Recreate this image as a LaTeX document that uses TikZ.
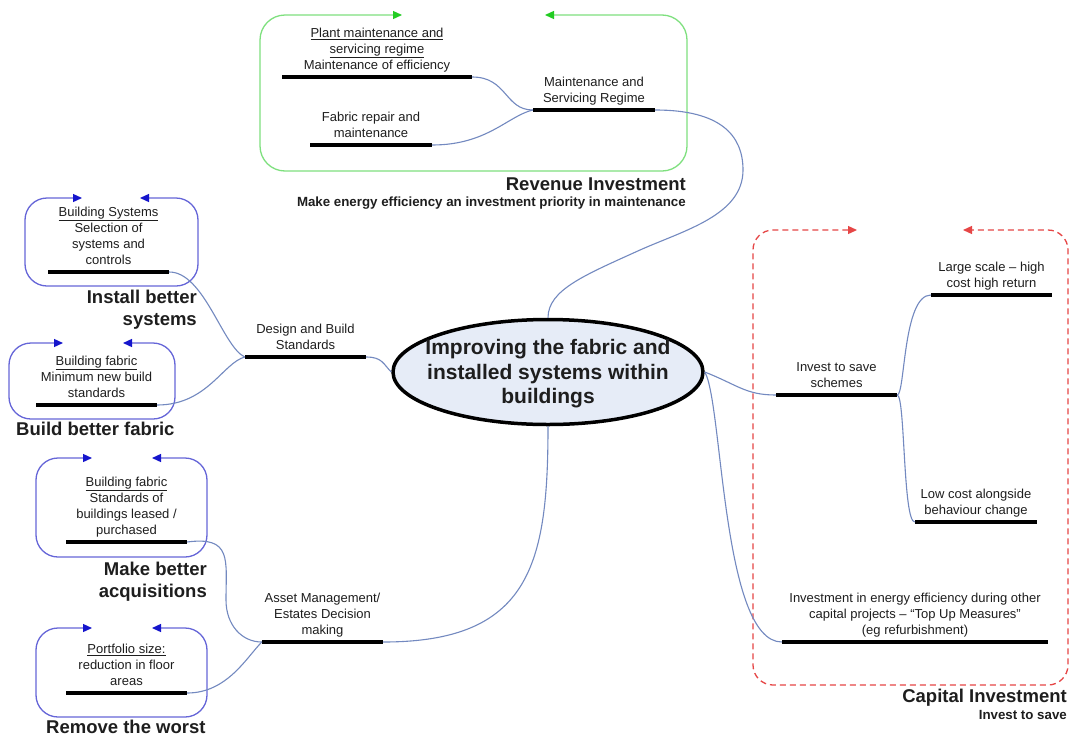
\documentclass[tikz,border=0pt]{standalone}
\usepackage{fontspec}
\setmainfont{Liberation Sans}
\usetikzlibrary{shapes.geometric,arrows.meta}

\definecolor{textc}{HTML}{1E1E1E}
\definecolor{linkc}{HTML}{7389C0}
\definecolor{hubfill}{HTML}{E6ECF7}
\definecolor{greenline}{HTML}{7EE07E}
\definecolor{greentip}{HTML}{22CC22}
\definecolor{blueline}{HTML}{6666D8}
\definecolor{bluetip}{HTML}{1515CC}
\definecolor{redline}{HTML}{E64646}

\tikzset{
  bar/.style={rectangle, fill=black, draw=none, inner sep=0pt, minimum height=4.5pt},
  lbl/.style={font=\fontsize{13}{16}\selectfont, text=textc, align=center,
              inner sep=0pt, anchor=south, execute at end node=\strut},
  title/.style={font=\fontsize{18.5}{22}\selectfont\bfseries, text=textc, inner sep=0pt},
  subtitle/.style={font=\fontsize{13.3}{15}\selectfont\bfseries, text=textc, inner sep=0pt},
  link/.style={draw=linkc, line width=1.1pt},
  hub/.style={ellipse, draw=black, line width=3.5pt, fill=hubfill,
              minimum width=310pt, minimum height=105pt, inner sep=0pt},
  hubtext/.style={align=center, text=textc, inner sep=0pt,
              font=\fontsize{21}{24.5}\selectfont\bfseries},
  greenframe/.style={draw=greenline, line width=1.3pt, rounded corners=25pt,
    {Triangle[length=9pt,width=8pt,color=greentip]}-{Triangle[length=9pt,width=8pt,color=greentip]}},
  blueframe/.style={draw=blueline, line width=1.3pt, rounded corners=22pt,
    {Triangle[length=9pt,width=8pt,color=bluetip]}-{Triangle[length=9pt,width=8pt,color=bluetip]}},
  redframe/.style={draw=redline, line width=1.3pt, rounded corners=20pt,
    dash pattern=on 6pt off 4pt,
    {Triangle[length=9pt,width=8pt,color=redline]}-{Triangle[length=9pt,width=8pt,color=redline]}},
}

\begin{document}
\begin{tikzpicture}[x=1pt,y=-1pt]
\useasboundingbox[fill=white] (0,0) rectangle (1073,742);

% ---------- group frames (open at the top, arrows pointing inwards) ----------
\draw[greenframe] (402,15) -- (260,15) -- (260,171) -- (687,171) -- (687,15) -- (545,15);
\draw[blueframe] (82,198) -- (25,198) -- (25,286) -- (198,286) -- (198,198) -- (140,198);
\draw[blueframe] (63,343) -- (9,343) -- (9,419) -- (175,419) -- (175,343) -- (123,343);
\draw[blueframe] (92,458) -- (36,458) -- (36,557) -- (207,557) -- (207,458) -- (152,458);
\draw[blueframe] (92,628) -- (36,628) -- (36,717) -- (207,717) -- (207,628) -- (152,628);
\draw[redframe] (857,230) -- (753,230) -- (753,685) -- (1068,685) -- (1068,230) -- (963,230);

% ---------- central topic ----------
\node[hub] (hub) at (548,372) {};
\node[hubtext] (hubt) at ([yshift=-2pt]hub.center) {Improving the fabric and\\installed systems within\\buildings};

% ---------- branch bars ----------
\node[bar, minimum width=190pt] (pm)     at (377,77)  {};
\node[bar, minimum width=122pt] (fr)     at (371,145) {};
\node[bar, minimum width=122pt] (msr)    at (594,110) {};
\node[bar, minimum width=121pt] (bs)     at (108.5,272) {};
\node[bar, minimum width=121pt] (bf)     at (96.5,405) {};
\node[bar, minimum width=121pt] (dbs)    at (305.5,357) {};
\node[bar, minimum width=121pt] (acq)    at (126.5,542) {};
\node[bar, minimum width=121pt] (port)   at (126.5,693) {};
\node[bar, minimum width=121pt] (asset)  at (322.5,642) {};
\node[bar, minimum width=121pt] (large)  at (991.5,295) {};
\node[bar, minimum width=121pt] (invest) at (836.5,395) {};
\node[bar, minimum width=122pt] (low)    at (976,522) {};
\node[bar, minimum width=266pt] (topup)  at (915,642) {};

% ---------- branch labels ----------
\node[lbl] (pmt) at (pm.north) {\underline{Plant maintenance and}\\\underline{servicing regime}\\Maintenance of efficiency};
\node[lbl] (frt) at (fr.north) {Fabric repair and\\maintenance};
\node[lbl] (msrt) at (msr.north) {Maintenance and\\Servicing Regime};
\node[lbl] (bst) at (bs.north) {\underline{Building Systems}\\Selection of\\systems and\\controls};
\node[lbl] (bft) at (bf.north) {\underline{Building fabric}\\Minimum new build\\standards};
\node[lbl] (dbst) at (dbs.north) {Design and Build\\Standards};
\node[lbl] (acqt) at (acq.north) {\underline{Building fabric}\\Standards of\\buildings leased /\\purchased};
\node[lbl] (portt) at (port.north) {\underline{Portfolio size:}\\reduction in floor\\areas};
\node[lbl] (assett) at (asset.north) {Asset Management/\\Estates Decision\\making};
\node[lbl] (larget) at (large.north) {Large scale – high\\cost high return};
\node[lbl] (investt) at (invest.north) {Invest to save\\schemes};
\node[lbl] (lowt) at (low.north) {Low cost alongside\\behaviour change};
\node[lbl] (topupt) at (topup.north) {Investment in energy efficiency during other\\capital projects – “Top Up Measures”\\(eg refurbishment)};

% ---------- group titles ----------
\node[title, anchor=base east] (revt) at (686,190) {Revenue Investment};
\node[subtitle, anchor=base east] (revs) at (686,206) {Make energy efficiency an investment priority in maintenance};
\node[title, anchor=base east] (inst1) at (197,303) {Install better};
\node[title, anchor=base east] (inst2) at (197,325) {systems};
\node[title, anchor=base west] (bbf) at (16,435) {Build better fabric};
\node[title, anchor=base east] (mba1) at (207,575) {Make better};
\node[title, anchor=base east] (mba2) at (207,597) {acquisitions};
\node[title, anchor=base west] (rtw) at (46,733) {Remove the worst};
\node[title, anchor=base east] (capt) at (1067,702) {Capital Investment};
\node[subtitle, anchor=base east] (caps) at (1067,719) {Invest to save};

% ---------- connectors ----------
% revenue branch
\coordinate (r1) at (743,170);
\coordinate (r2) at (640,250);
\draw[link] (pm.east) .. controls +(35,0) and +(-28,0) .. (msr.west);
\draw[link] (fr.east) .. controls +(55,0) and +(-25,6) .. (msr.west);
\draw[link] (msr.east) .. controls +(65,0) and +(0,-35) .. (r1)
            .. controls +(0,45) and +(45,-20) .. (r2)
            .. controls +(-55,25) and +(0,-28) .. (hub.north);
% design and build branch
\draw[link] (bs.east) .. controls +(35,0) and +(-22,-10) .. (dbs.west);
\draw[link] (bf.east) .. controls +(50,0) and +(-22,6) .. (dbs.west);
\draw[link] (dbs.east) .. controls +(16,0) and +(-8,-8) .. (hub.west);
% asset management branch
\coordinate (a1) at (226,600);
\draw[link] (acq.east) .. controls +(45,-6) and +(0,-40) .. (a1)
            .. controls +(0,25) and +(-20,0) .. (asset.west);
\draw[link] (port.east) .. controls +(40,0) and +(-15,15) .. (asset.west);
\draw[link] (asset.east) .. controls +(147,0) and +(0,138) .. (hub.south);
% capital branch
\draw[link] (hub.east) .. controls +(33,13) and +(-30,0) .. (invest.west);
\draw[link] (hub.east) .. controls +(18,30) and +(-60,0) .. (topup.west);
\draw[link] (invest.east) .. controls +(8,0) and +(-28,0) .. (large.west);
\draw[link] (invest.east) .. controls +(8,0) and +(-12,0) .. (low.west);
\end{tikzpicture}
\end{document}
